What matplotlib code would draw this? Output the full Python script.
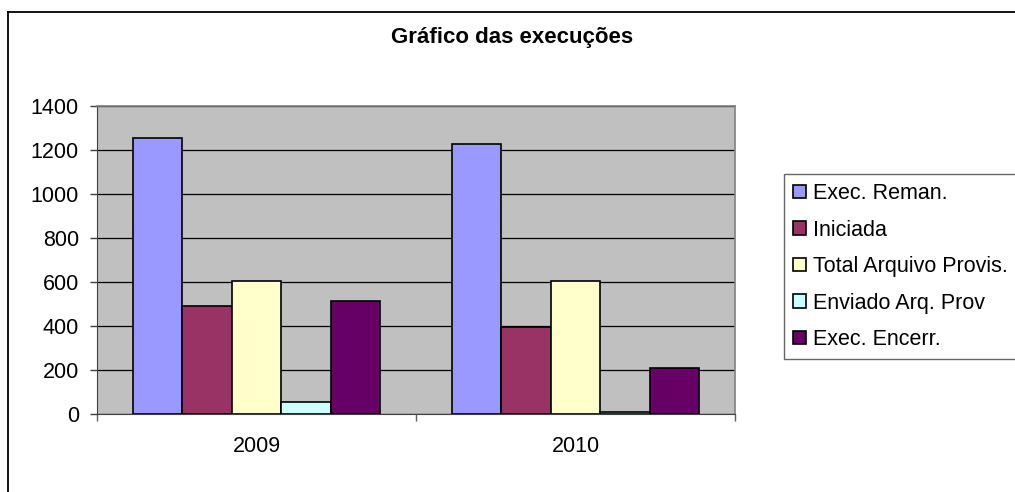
import numpy as np
import matplotlib
matplotlib.use('Agg')
import matplotlib.pyplot as plt
from matplotlib.lines import Line2D

plt.rcParams['font.family'] = ['Liberation Sans', 'DejaVu Sans']

# dados
anos = ['2009', '2010']
series = ['Exec. Reman.', 'Iniciada', 'Total Arquivo Provis.', 'Enviado Arq. Prov', 'Exec. Encerr.']
exec_reman = [1253, 1226]
iniciada = [490, 397]
total_arquivo = [606, 606]
enviado_arq = [53, 8]
exec_encerr = [515, 208]
cores = ['#9999FF', '#993366', '#FFFFCC', '#CCFFFF', '#660066']

valores = [exec_reman, iniciada, total_arquivo, enviado_arq, exec_encerr]

fig = plt.figure(figsize=(10.15, 4.92), dpi=100)
ax = fig.add_axes([97 / 1015, 1 - 414 / 492, (735 - 97) / 1015, (414 - 105.7) / 492])
ax.set_facecolor('#C0C0C0')

x = np.arange(len(anos))
largura = 0.155
for i, (nome, vals, cor) in enumerate(zip(series, valores, cores)):
    ax.bar(x + (i - 2) * largura, vals, largura, color=cor, edgecolor='black',
           linewidth=1.2, label=nome, zorder=3)

ax.set_xlim(-0.5, 1.5)
ax.set_ylim(0, 1400)
ax.set_yticks(range(0, 1401, 200))
ax.yaxis.grid(True, color='black', linewidth=0.9, zorder=1)
ax.set_axisbelow(True)

# marcas do eixo x entre as categorias, rótulos no centro
ax.set_xticks([-0.5, 0.5, 1.5])
ax.set_xticklabels([])
ax.set_xticks(x, minor=True)
ax.set_xticklabels(anos, minor=True)
ax.tick_params(axis='x', which='major', length=5, width=1, color='#606060', direction='out')
ax.tick_params(axis='x', which='minor', length=0, pad=16, labelsize=15.5)
ax.tick_params(axis='y', length=5, width=1, color='#404040', pad=8, labelsize=15.5)

for lado in ['top', 'right']:
    ax.spines[lado].set_color('#808080')
    ax.spines[lado].set_linewidth(1.2)
ax.spines['left'].set_color('#404040')
ax.spines['bottom'].set_color('#404040')

fig.text(512 / 1015, 1 - 37 / 492, 'Gráfico das execuções', ha='center', va='center',
         fontsize=16, fontweight='bold')

leg = fig.legend(loc='upper left', bbox_to_anchor=(784 / 1015, 1 - 174 / 492),
                 fontsize=15.5, frameon=True, fancybox=False, handlelength=0.6,
                 handleheight=0.6, handletextpad=0.35, labelspacing=0.72,
                 borderpad=0.42, borderaxespad=0)
leg.get_frame().set_edgecolor('#404040')
leg.get_frame().set_linewidth(1.0)

# moldura externa do gráfico
fig.add_artist(Line2D([8 / 1015, 8 / 1015], [0, 1 - 12 / 492], transform=fig.transFigure,
                      color='black', linewidth=1.3))
fig.add_artist(Line2D([8 / 1015, 1], [1 - 12 / 492, 1 - 12 / 492], transform=fig.transFigure,
                      color='black', linewidth=1.3))

fig.savefig('out.png', dpi=100)
